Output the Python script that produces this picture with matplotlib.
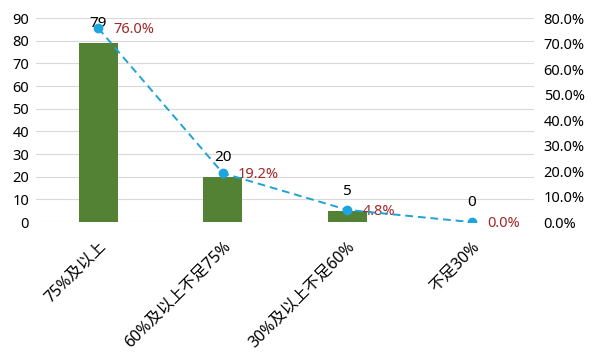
import matplotlib
matplotlib.use("Agg")
import matplotlib.pyplot as plt
from matplotlib.ticker import FuncFormatter

plt.rcParams['font.family'] = ['Noto Sans', 'Noto Sans CJK SC', 'DejaVu Sans']

categories = ["75%及以上", "60%及以上不足75%", "30%及以上不足60%", "不足30%"]
counts = [79, 20, 5, 0]
shares = [0.760, 0.192, 0.048, 0.0]

bar_color = "#548235"
line_color = "#1FA3D6"
marker_color = "#1BA6DF"
pct_color = "#A0282A"
grid_color = "#D9D9D9"

fig = plt.figure(figsize=(6, 3.6), dpi=100)
ax = fig.add_axes([0.06, 0.383, 0.83, 0.567])
x = list(range(len(categories)))

ax.bar(x, counts, width=0.315, color=bar_color, zorder=2)
ax.set_ylim(0, 90)
ax.set_xlim(-0.5, 3.5)
ax.set_yticks(range(0, 91, 10))
ax.yaxis.grid(True, color=grid_color, linewidth=0.8, zorder=0)
ax.set_axisbelow(True)
for s in ax.spines.values():
    s.set_visible(False)
ax.tick_params(axis='both', length=0, labelsize=10.5, colors='#000000')
ax.tick_params(axis='y', pad=5)
ax.set_xticks(x)
ax.set_xticklabels(categories, rotation=45, ha='right', rotation_mode='anchor', fontsize=11.5)
ax.tick_params(axis='x', pad=12)

for xi, c in zip(x, counts):
    ax.annotate(str(c), (xi, c), xytext=(0, 14), textcoords='offset points',
                ha='center', va='center', fontsize=11, color='#000000', zorder=5)

ax2 = ax.twinx()
ax2.set_ylim(0, 0.8)
ax2.set_yticks([i / 10 for i in range(0, 9)])
ax2.yaxis.set_major_formatter(FuncFormatter(lambda v, p: f"{v*100:.1f}%"))
for s in ax2.spines.values():
    s.set_visible(False)
ax2.tick_params(axis='y', length=0, labelsize=10.5, pad=7)
ax2.plot(x, shares, linestyle=(0, (4, 2.5)), color=line_color, linewidth=1.4,
         marker='o', markersize=6, markerfacecolor=marker_color,
         markeredgecolor=marker_color, zorder=4)
for xi, s in zip(x, shares):
    ax2.annotate(f"{s*100:.1f}%", (xi, s), xytext=(11, -1), textcoords='offset points',
                 ha='left', va='center', fontsize=10.5, color=pct_color)

fig.savefig("out.png", dpi=100)
